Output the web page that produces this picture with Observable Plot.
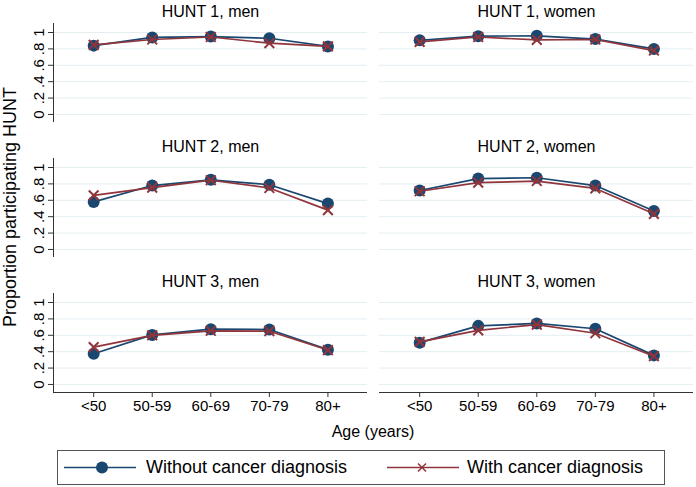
<!DOCTYPE html>
<html>
<head>
<meta charset="utf-8">
<script src="https://cdn.jsdelivr.net/npm/d3@7"></script>
<script src="https://cdn.jsdelivr.net/npm/@observablehq/plot@0.6"></script>
<style>
  html, body { margin: 0; padding: 0; background: #fff; }
  body { font-family: "Liberation Sans", Arial, sans-serif; width: 696px; height: 487px; overflow: hidden; }
  #legend { position: relative; width: 608px; height: 35px; margin: 4px 0 0 57px; border: 1px solid #555; box-sizing: border-box; font-size: 18px; color: #000; }
  #legend .sym { position: absolute; top: 0; }
  #legend .lab { position: absolute; top: 6px; white-space: nowrap; line-height: 20px; }
</style>
</head>
<body>
<div id="chart"></div>
<div id="legend"></div>
<script>
// ---- data ----
const ages = ["<50", "50-59", "60-69", "70-79", "80+"];
const waves = ["HUNT 1", "HUNT 2", "HUNT 3"];
const sexes = ["men", "women"];
const groups = ["Without cancer diagnosis", "With cancer diagnosis"];
const yTicks = [0, 0.2, 0.4, 0.6, 0.8, 1];

const h1MenWithout   = [0.84, 0.94, 0.95, 0.93, 0.83];
const h1MenWith      = [0.85, 0.915, 0.945, 0.87, 0.83];
const h1WomenWithout = [0.905, 0.955, 0.96, 0.92, 0.80];
const h1WomenWith    = [0.885, 0.945, 0.91, 0.915, 0.78];
const h2MenWithout   = [0.58, 0.78, 0.85, 0.79, 0.56];
const h2MenWith      = [0.66, 0.755, 0.845, 0.75, 0.48];
const h2WomenWithout = [0.72, 0.865, 0.875, 0.78, 0.47];
const h2WomenWith    = [0.71, 0.815, 0.835, 0.745, 0.435];
const h3MenWithout   = [0.375, 0.605, 0.675, 0.67, 0.425];
const h3MenWith      = [0.455, 0.60, 0.655, 0.65, 0.42];
const h3WomenWithout = [0.51, 0.715, 0.745, 0.68, 0.355];
const h3WomenWith    = [0.52, 0.66, 0.73, 0.625, 0.345];

const seriesTable = {
  "HUNT 1": {men: [h1MenWithout, h1MenWith], women: [h1WomenWithout, h1WomenWith]},
  "HUNT 2": {men: [h2MenWithout, h2MenWith], women: [h2WomenWithout, h2WomenWith]},
  "HUNT 3": {men: [h3MenWithout, h3MenWith], women: [h3WomenWithout, h3WomenWith]}
};

const navy = "#1a476f";
const maroon = "#90353b";

const rows = [];
for (const w of waves) for (const s of sexes) groups.forEach((g, gi) => {
  seriesTable[w][s][gi].forEach((v, i) => rows.push({wave: w, sex: s, group: g, age: i, value: v}));
});
const without = rows.filter(d => d.group === groups[0]);
const withC = rows.filter(d => d.group === groups[1]);
const panels = [];
for (const w of waves) for (const s of sexes) panels.push({wave: w, sex: s, title: `${w}, ${s}`});

const xDomain = [-0.686, 4.676];
const yDomain = [-0.098, 1.11];
const fmt = d => d === 0 ? "0" : d === 1 ? "1" : d3.format(".1f")(d).replace(/^0/, "");

const plot = Plot.plot({
  width: 696,
  height: 446,
  marginLeft: 53,
  marginRight: 3,
  marginTop: 22,
  marginBottom: 54,
  style: {background: "#fff", fontFamily: "'Liberation Sans', Arial, sans-serif", fontSize: "15px", color: "#000"},
  facet: {marginTop: 0, marginRight: 0, marginBottom: 0, marginLeft: 0},
  fx: {domain: sexes, axis: null, paddingInner: 0.037, paddingOuter: 0},
  fy: {domain: waves, axis: null, paddingInner: 0.267, paddingOuter: 0},
  x: {domain: xDomain},
  y: {domain: yDomain},
  marks: [
    Plot.gridY(yTicks, {stroke: "#e4eef1", strokeOpacity: 1, strokeWidth: 1}),
    Plot.ruleX(waves.map(w => ({wave: w, sex: sexes[0]})), {fx: "sex", fy: "wave", x: () => xDomain[0], stroke: "#333", strokeWidth: 1}),
    Plot.ruleY(sexes.map(s => ({wave: waves[2], sex: s})), {fx: "sex", fy: "wave", y: () => yDomain[0], stroke: "#333", strokeWidth: 1}),
    Plot.axisX({ticks: d3.range(ages.length), tickFormat: i => ages[i], tickSize: 5, tickPadding: 3, fontSize: 15, label: null, stroke: "#333"}),
    Plot.axisY({ticks: yTicks, tickFormat: fmt, tickRotate: -90, tickSize: 5, tickPadding: 5, fontSize: 15, label: null, stroke: "#333"}),
    Plot.text(panels, {fx: "sex", fy: "wave", text: "title", frameAnchor: "top", dy: -7, lineAnchor: "bottom", fontSize: 16, fill: "#000"}),
    Plot.line(without, {fx: "sex", fy: "wave", x: "age", y: "value", stroke: navy, strokeWidth: 1.7}),
    Plot.dot(without, {fx: "sex", fy: "wave", x: "age", y: "value", r: 6, fill: navy, stroke: "none"}),
    Plot.line(withC, {fx: "sex", fy: "wave", x: "age", y: "value", stroke: maroon, strokeWidth: 1.7}),
    Plot.dot(withC, {fx: "sex", fy: "wave", x: "age", y: "value", symbol: "times", r: 4.5, stroke: maroon, strokeWidth: 2})
  ]
});
document.getElementById("chart").appendChild(plot);

// overall axis titles
const svg = d3.select(plot);
svg.append("text")
  .attr("transform", "translate(16,207) rotate(-90)")
  .attr("text-anchor", "middle")
  .attr("font-size", 18)
  .attr("fill", "#000")
  .text("Proportion participating HUNT");
svg.append("text")
  .attr("x", 373).attr("y", 437)
  .attr("text-anchor", "middle")
  .attr("font-size", 16)
  .attr("fill", "#000")
  .text("Age (years)");

// legend
const legend = d3.select("#legend");
const items = [
  {label: groups[0], color: navy, kind: "circle", x0: 5, lab: 88},
  {label: groups[1], color: maroon, kind: "times", x0: 328, lab: 409}
];
for (const it of items) {
  const s = legend.append("svg").attr("class", "sym").attr("width", 74).attr("height", 33).style("left", it.x0 + "px");
  s.append("line").attr("x1", 1).attr("x2", 73).attr("y1", 16.5).attr("y2", 16.5).attr("stroke", it.color).attr("stroke-width", 1.7);
  if (it.kind === "circle") {
    s.append("circle").attr("cx", 39).attr("cy", 16.5).attr("r", 6).attr("fill", it.color);
  } else {
    s.append("path").attr("d", "M32,12.5L40,20.5M40,12.5L32,20.5").attr("stroke", it.color).attr("stroke-width", 1.5);
  }
  legend.append("span").attr("class", "lab").style("left", it.lab + "px").text(it.label);
}
</script>
</body>
</html>
